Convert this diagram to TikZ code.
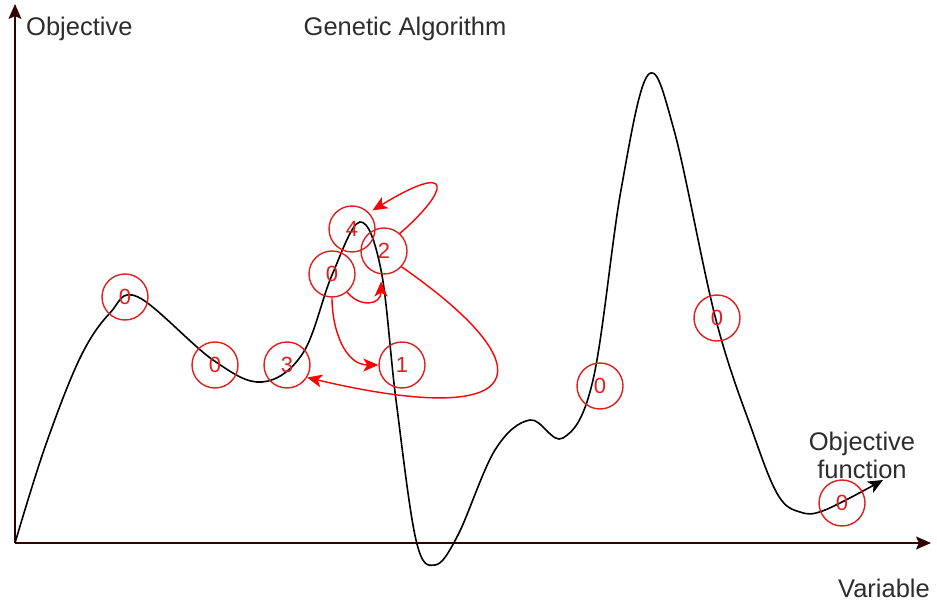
\documentclass[tikz,border=0pt]{standalone}
\usepackage{fontspec}
\setmainfont{Liberation Sans}
\usetikzlibrary{arrows.meta}

\definecolor{axisred}{RGB}{51,0,0}
\definecolor{candred}{RGB}{225,30,30}
\definecolor{textgrey}{RGB}{45,45,45}

\tikzset{
	cand/.style={circle, draw=candred, line width=1.4pt, minimum size=46pt,
		inner sep=0pt, text=candred, font=\fontsize{22}{24}\selectfont},
	lbl/.style={text=textgrey, font=\fontsize{25.5}{28}\selectfont, inner sep=0pt},
	move/.style={draw=red, line width=1.4pt,
		-{Stealth[length=15pt, width=13pt, inset=4pt]}},
}

\begin{document}
\begin{tikzpicture}[x=1pt, y=-1pt]

	\useasboundingbox (0,0) rectangle (937,601);

	\coordinate (O) at (15,543);
	\coordinate (Ytop) at (15,4);
	\coordinate (Xend) at (931,543);

	% axes
	\draw[axisred, line width=1.6pt, -{Stealth[length=15pt, width=13pt, inset=3pt]}] (O) -- (Ytop);
	\draw[axisred, line width=1.6pt, -{Stealth[length=15pt, width=13pt, inset=3pt]}] (O) -- (Xend);

	\node[lbl, anchor=west] (ylab) at (26,29) {Objective};
	\node[lbl] (title) at (405,29) {Genetic Algorithm};
	\node[lbl, anchor=east] (xlab) at (930,588) {Variable};
	\node[lbl, align=center] (flab) at (862,455) {Objective\\function};

	% objective function
	\draw[black, line width=1.6pt, -{Stealth[length=15pt, width=13pt, inset=4pt]}]
		plot[smooth, tension=0.6] coordinates {
		(15,543) (45,447) (80,358) (110,313) (138,297) (213,360) (262,382) (303,353)
		(332,275) (360,222) (381,270) (396,400) (416,540) (435,565)
		(458,535) (495,450) (530,420) (563,438) (593,380) (621,190)
		(648,75) (674,130) (716,320) (753,433) (778,495) (800,512) (825,510) (883,480)};

	% candidates
	\node[cand] (A) at (125,297) {0};
	\node[cand] (B) at (215,365) {0};
	\node[cand] (C) at (287,365) {3};
	\node[cand] (D) at (332,274) {0};
	\node[cand] (E) at (352,229) {4};
	\node[cand] (F) at (384,251) {2};
	\node[cand] (G) at (402,365) {1};
	\node[cand] (H) at (600,386) {0};
	\node[cand] (I) at (717,318) {0};
	\node[cand] (J) at (842,503) {0};

	% moves
	\draw[move] (D.south) .. controls (332,330) and (345,365) .. (G.west);
	\draw[move, shorten >=7pt] (D.-50) .. controls (360,308) and (381,305) .. (F.-97);
	\draw[move] (F.-42) .. controls (550,370) and (530,430) .. (C.-32);
	\draw[move, shorten >=4pt] (F.48) .. controls (450,190) and (455,160) .. (E.44);

\end{tikzpicture}
\end{document}
